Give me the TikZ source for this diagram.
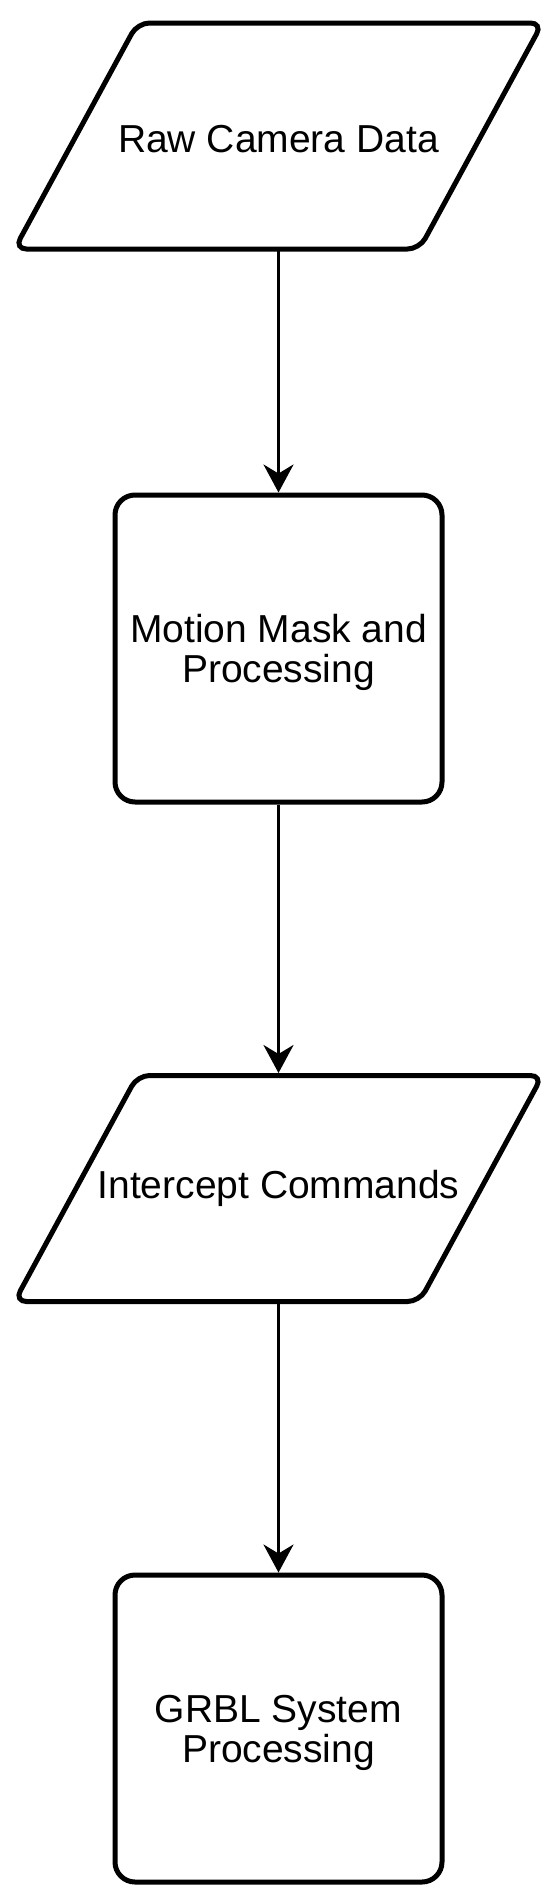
\documentclass[tikz,border=0pt]{standalone}
\usepackage{fontspec}
\setmainfont{Liberation Sans}
\usetikzlibrary{arrows.meta,calc}
\newcommand{\lblfont}{\fontsize{39}{40}\selectfont}
\begin{document}
\begin{tikzpicture}[x=1pt,y=-1pt,
  procbox/.style={draw, line width=5pt, rounded corners=20pt, minimum width=327pt, minimum height=307pt, align=center, inner sep=0pt, text depth=0pt, font=\lblfont},
  iobox/.style={minimum width=528pt, minimum height=226pt, inner sep=0pt, outer sep=2.5pt, align=center, font=\lblfont},
  ioshape/.style={line width=5pt, rounded corners=12pt},
  flow/.style={line width=3pt, -{Stealth[length=28pt,width=30pt,inset=9pt]}}]
\useasboundingbox (0,0) rectangle (557,1901);
\node[iobox, minimum height=220pt, outer sep=0pt] (raw) at (278.5,139) {Raw Camera Data};
\draw[ioshape] ($(raw.center)+(-141,-116)$) -- ($(raw.center)+(264,-116)$) -- ($(raw.center)+(141,110)$) -- ($(raw.center)+(-264,110)$) -- cycle;
\node[procbox] (mm) at (278.5,648.5) {Motion Mask and\\Processing};
\node[iobox] (ic) at (278.5,1188.5) {Intercept Commands};
\draw[ioshape] ($(ic.center)+(-141,-113)$) -- ($(ic.center)+(264,-113)$) -- ($(ic.center)+(141,113)$) -- ($(ic.center)+(-264,113)$) -- cycle;
\node[procbox] (grbl) at (278.5,1728.5) {GRBL System\\Processing};
\draw[flow] (raw.south) -- (mm.north);
\draw[flow] (mm.south) -- (ic.north);
\draw[flow] (ic.south) -- (grbl.north);
\end{tikzpicture}
\end{document}
